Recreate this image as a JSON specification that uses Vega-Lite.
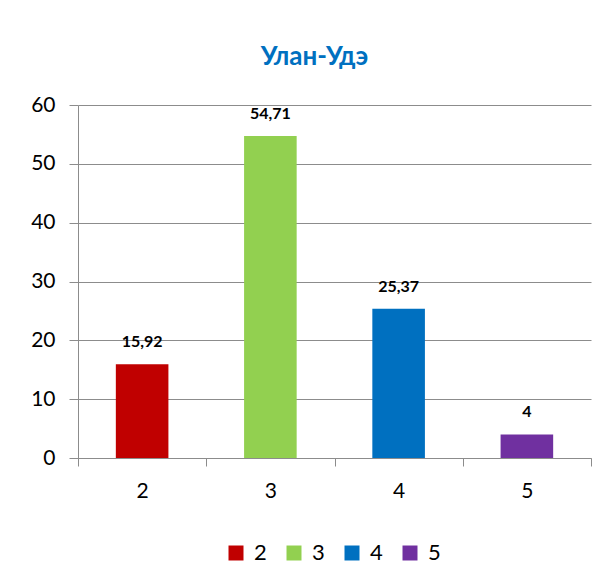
{
  "$schema": "https://vega.github.io/schema/vega-lite/v6.json",
  "width": 513,
  "height": 353,
  "autosize": {"type": "none"},
  "padding": {"left": 78, "top": 105, "right": 19, "bottom": 122},
  "background": "white",
  "title": {
    "text": "Улан-Удэ",
    "color": "#0070C0",
    "font": "Lato",
    "fontSize": 26,
    "fontWeight": "bold",
    "anchor": "middle",
    "frame": "group",
    "dx": -20,
    "baseline": "alphabetic",
    "offset": 3
  },
  "config": {
    "locale": {"number": {"decimal": ",", "thousands": " ", "grouping": [3], "currency": ["", ""]}},
    "view": {"stroke": null},
    "font": "Lato"
  },
  "data": {
    "values": [
      {"grade": "2", "value": 15.92},
      {"grade": "3", "value": 54.71},
      {"grade": "4", "value": 25.37},
      {"grade": "5", "value": 4}
    ]
  },
  "encoding": {
    "x": {
      "field": "grade",
      "type": "nominal",
      "sort": ["2", "3", "4", "5"],
      "scale": {"paddingInner": 0, "paddingOuter": 0},
      "axis": {
        "title": null,
        "labelAngle": 0,
        "labelFont": "Lato",
        "labelFontSize": 21,
        "labelColor": "#000000",
        "labelPadding": 14,
        "tickBand": "extent",
        "tickSize": 8,
        "tickColor": "#8c8c8c",
        "domainColor": "#8c8c8c",
        "grid": false
      }
    },
    "y": {
      "field": "value",
      "type": "quantitative",
      "scale": {"domain": [0, 60]},
      "axis": {
        "title": null,
        "values": [0, 10, 20, 30, 40, 50, 60],
        "labelFont": "Lato",
        "labelFontSize": 21,
        "labelColor": "#000000",
        "labelPadding": 14,
        "tickSize": 9,
        "tickColor": "#8c8c8c",
        "domainColor": "#8c8c8c",
        "gridColor": "#8c8c8c",
        "gridWidth": 1
      }
    }
  },
  "layer": [
    {
      "mark": {"type": "bar", "width": {"band": 0.41}},
      "encoding": {
        "color": {
          "field": "grade",
          "type": "nominal",
          "scale": {"domain": ["2", "3", "4", "5"], "range": ["#C00000", "#92D050", "#0070C0", "#7030A0"]},
          "legend": {
            "title": null,
            "orient": "none",
            "direction": "horizontal",
            "legendX": 147,
            "legendY": 437,
            "symbolType": "square",
            "symbolSize": 225,
            "symbolStrokeWidth": 0,
            "symbolOpacity": 1,
            "labelFont": "Lato",
            "labelFontSize": 22,
            "labelColor": "#000000",
            "labelOffset": 7,
            "columnPadding": 16
          }
        }
      }
    },
    {
      "mark": {"type": "text", "baseline": "alphabetic", "dy": -17, "font": "Lato", "fontSize": 16, "fontWeight": "bold", "color": "#000000"},
      "encoding": {
        "text": {"field": "value", "type": "quantitative", "format": ",.2~f"}
      }
    }
  ]
}
